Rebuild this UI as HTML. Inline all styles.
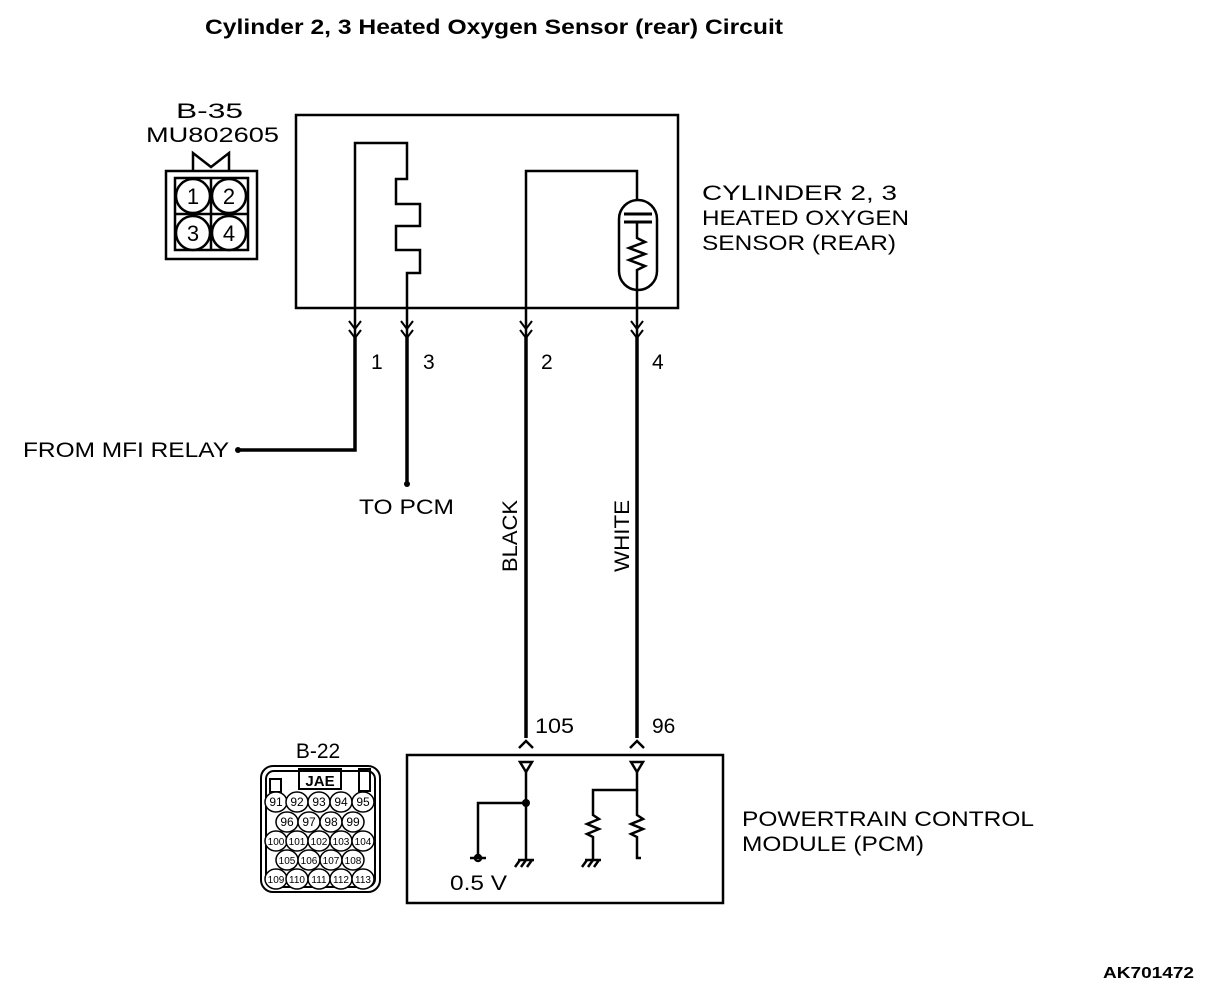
<!DOCTYPE html>
<html><head><meta charset="utf-8"><style>
body{margin:0;background:#fff}
svg{display:block}
text{font-family:"Liberation Sans",Arial,sans-serif;fill:#000}
</style></head><body>
<svg width="1216" height="1004" viewBox="0 0 1216 1004" xmlns="http://www.w3.org/2000/svg">
<text x="205" y="34" font-size="21" font-weight="bold" textLength="578" lengthAdjust="spacingAndGlyphs">Cylinder 2, 3 Heated Oxygen Sensor (rear) Circuit</text>
<!-- B-35 connector -->
<text x="176" y="118" font-size="21" textLength="67" lengthAdjust="spacingAndGlyphs">B-35</text>
<text x="146" y="142" font-size="21" textLength="133" lengthAdjust="spacingAndGlyphs">MU802605</text>
<g fill="none" stroke="#000" stroke-width="2.5">
<path d="M193 171 V153 L211 167 L229 153 V171"/>
<rect x="166" y="171" width="91" height="88"/>
<rect x="175" y="178" width="73" height="72"/>
<line x1="211" y1="178" x2="211" y2="250"/><line x1="175" y1="214" x2="248" y2="214"/>
<circle cx="193" cy="196" r="17" fill="#fff"/><circle cx="229" cy="196" r="17" fill="#fff"/>
<circle cx="193" cy="233" r="17" fill="#fff"/><circle cx="229" cy="233" r="17" fill="#fff"/>
</g>
<g font-size="22" text-anchor="middle"><text x="193" y="204">1</text><text x="229" y="204">2</text><text x="193" y="241">3</text><text x="229" y="241">4</text></g>
<!-- sensor box -->
<g fill="none" stroke="#000" stroke-width="2.5">
<rect x="296" y="115" width="382" height="193"/>
<path d="M355 340 V143 H407 V179 H396 V204 H420 V226 H396 V250 H420 V273 H407 V340"/>
<path d="M526 340 V171 H637 V200"/>
<rect x="619" y="200" width="38" height="90" rx="19"/>
<line x1="624" y1="214" x2="652" y2="214" stroke-width="3"/>
<line x1="624" y1="222" x2="652" y2="222" stroke-width="3"/>
<path d="M637 222 V238 L645 242 L629 248 L645 254 L629 260 L645 266 L637 270 V340"/>
</g>
<text x="702" y="200" font-size="21" textLength="195" lengthAdjust="spacingAndGlyphs">CYLINDER 2, 3</text>
<text x="702" y="225" font-size="21" textLength="207" lengthAdjust="spacingAndGlyphs">HEATED OXYGEN</text>
<text x="702" y="250" font-size="21" textLength="194" lengthAdjust="spacingAndGlyphs">SENSOR (REAR)</text>
<!-- chevrons -->
<g fill="none" stroke="#000" stroke-width="2">
<path d="M349 321 L355 329 L361 321 M349 330 L355 338 L361 330"/>
<path d="M401 321 L407 329 L413 321 M401 330 L407 338 L413 330"/>
<path d="M520 321 L526 329 L532 321 M520 330 L526 338 L532 330"/>
<path d="M631 321 L637 329 L643 321 M631 330 L637 338 L643 330"/>
</g>
<g font-size="21"><text x="371" y="369">1</text><text x="423" y="369">3</text><text x="541" y="369">2</text><text x="652" y="369">4</text></g>
<!-- wires -->
<g fill="none" stroke="#000" stroke-width="3.5">
<path d="M355 336 V450 H238"/>
<path d="M407 336 V484"/>
<path d="M526 336 V738"/>
<path d="M637 336 V738"/>
</g>
<circle cx="238" cy="450" r="3"/><circle cx="407" cy="484" r="3"/>
<text x="23" y="457" font-size="21" textLength="206" lengthAdjust="spacingAndGlyphs">FROM MFI RELAY</text>
<text x="359" y="514" font-size="21" textLength="95" lengthAdjust="spacingAndGlyphs">TO PCM</text>
<text transform="translate(517,572) rotate(-90)" font-size="21" textLength="72" lengthAdjust="spacingAndGlyphs">BLACK</text>
<text transform="translate(629,572) rotate(-90)" font-size="21" textLength="72" lengthAdjust="spacingAndGlyphs">WHITE</text>
<text x="535" y="733" font-size="21" textLength="39" lengthAdjust="spacingAndGlyphs">105</text>
<text x="652" y="733" font-size="21">96</text>
<!-- PCM -->
<g fill="none" stroke="#000" stroke-width="2.5">
<path d="M519 748 L526 741 L533 748"/><path d="M630 748 L637 741 L644 748"/>
<rect x="407" y="755" width="316" height="148"/>
<path d="M520 762 H532 L526 772 Z"/><path d="M631 762 H643 L637 772 Z"/>
<path d="M526 772 V860"/><path d="M526 803 H478 V858"/>
<path d="M470 858 H486"/><circle cx="478" cy="858" r="3"/>
<path d="M518 860 H534 M520 860 L515 867 M526 860 L521 867 M532 860 L527 867"/>
<path d="M637 772 V790 H593 V815 L599 819 L587 824 L599 829 L587 834 L593 837 V860"/>
<path d="M637 790 V815 L643 819 L631 824 L643 829 L631 834 L637 837 V858 H641"/>
<path d="M585 860 H601 M587 860 L582 867 M593 860 L588 867 M599 860 L594 867"/>
</g>
<circle cx="526" cy="803" r="4"/>
<text x="450" y="890" font-size="21" textLength="57" lengthAdjust="spacingAndGlyphs">0.5 V</text>
<text x="742" y="826" font-size="21" textLength="292" lengthAdjust="spacingAndGlyphs">POWERTRAIN CONTROL</text>
<text x="742" y="851" font-size="21" textLength="182" lengthAdjust="spacingAndGlyphs">MODULE (PCM)</text>
<!-- B-22 connector -->
<text x="318" y="758" font-size="21" text-anchor="middle">B-22</text>
<g fill="none" stroke="#000" stroke-width="2">
<rect x="261" y="766" width="119" height="126" rx="12"/>
<rect x="266" y="771" width="109" height="116" rx="8"/>
<rect x="299" y="769" width="42" height="20"/>
<rect x="270" y="779" width="11" height="13"/><rect x="359" y="769" width="11" height="22"/>
</g>
<text x="320" y="786" font-size="15" font-weight="bold" text-anchor="middle" font-family="Liberation Serif">JAE</text>
<g fill="#fff" stroke="#000" stroke-width="1.5">
<ellipse cx="276" cy="802" rx="11" ry="10"/><ellipse cx="297" cy="802" rx="11" ry="10"/><ellipse cx="319" cy="802" rx="11" ry="10"/><ellipse cx="341" cy="802" rx="11" ry="10"/><ellipse cx="363" cy="802" rx="11" ry="10"/>
<ellipse cx="287" cy="822" rx="11" ry="10"/><ellipse cx="309" cy="822" rx="11" ry="10"/><ellipse cx="331" cy="822" rx="11" ry="10"/><ellipse cx="353" cy="822" rx="11" ry="10"/>
<ellipse cx="276" cy="841" rx="11" ry="10"/><ellipse cx="297" cy="841" rx="11" ry="10"/><ellipse cx="319" cy="841" rx="11" ry="10"/><ellipse cx="341" cy="841" rx="11" ry="10"/><ellipse cx="363" cy="841" rx="11" ry="10"/>
<ellipse cx="287" cy="860" rx="11" ry="10"/><ellipse cx="309" cy="860" rx="11" ry="10"/><ellipse cx="331" cy="860" rx="11" ry="10"/><ellipse cx="353" cy="860" rx="11" ry="10"/>
<ellipse cx="276" cy="879" rx="11" ry="10"/><ellipse cx="297" cy="879" rx="11" ry="10"/><ellipse cx="319" cy="879" rx="11" ry="10"/><ellipse cx="341" cy="879" rx="11" ry="10"/><ellipse cx="363" cy="879" rx="11" ry="10"/>
</g>
<g font-size="12" text-anchor="middle">
<text x="276" y="806">91</text><text x="297" y="806">92</text><text x="319" y="806">93</text><text x="341" y="806">94</text><text x="363" y="806">95</text>
<text x="287" y="826">96</text><text x="309" y="826">97</text><text x="331" y="826">98</text><text x="353" y="826">99</text>
<text x="276" y="845" font-size="10">100</text><text x="297" y="845" font-size="10">101</text><text x="319" y="845" font-size="10">102</text><text x="341" y="845" font-size="10">103</text><text x="363" y="845" font-size="10">104</text>
<text x="287" y="864" font-size="10">105</text><text x="309" y="864" font-size="10">106</text><text x="331" y="864" font-size="10">107</text><text x="353" y="864" font-size="10">108</text>
<text x="276" y="883" font-size="10">109</text><text x="297" y="883" font-size="10">110</text><text x="319" y="883" font-size="10">111</text><text x="341" y="883" font-size="10">112</text><text x="363" y="883" font-size="10">113</text>
</g>
<text x="1103" y="978" font-size="16" font-weight="bold" textLength="91" lengthAdjust="spacingAndGlyphs">AK701472</text>
</svg>
</body></html>
